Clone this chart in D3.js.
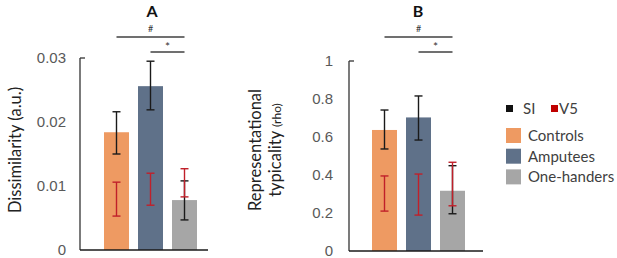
<!DOCTYPE html>
<html>
<head>
<meta charset="utf-8">
<script src="https://cdn.jsdelivr.net/npm/d3@7"></script>
<style>
  body { margin: 0; background: #fff; }
  svg { font-family: Lato, "Noto Sans", sans-serif; }
  .tick text { fill: #595959; font-size: 15px; }
</style>
</head>
<body>
<script>
let w = 617;
let h = 258;

let groups = ["Controls", "Amputees", "One-handers"];
let colors = ["#ee9a62", "#5f7189", "#a6a6a6"];

// Panel A: dissimilarity
let barsA = [0.0184, 0.0256, 0.0078];
let siA = [[0.0150, 0.0216], [0.0219, 0.0295], [0.0047, 0.0108]];
let v5A = [[0.0053, 0.0106], [0.0070, 0.0120], [0.0083, 0.0127]];
let ticksA = [0, 0.01, 0.02, 0.03];

// Panel B: representational typicality
let barsB = [0.637, 0.703, 0.317];
let siB = [[0.537, 0.742], [0.584, 0.816], [0.196, 0.449]];
let v5B = [[0.210, 0.395], [0.189, 0.405], [0.238, 0.467]];
let ticksB = [0, 0.2, 0.4, 0.6, 0.8, 1];

let svg = d3.select("body")
  .append("svg")
  .attr("width", w)
  .attr("height", h);

function panel(o) {
  let x = d3.scaleBand()
    .domain(groups)
    .range(o.xr)
    .paddingInner(0.265)
    .paddingOuter(0);

  let y = d3.scaleLinear()
    .domain(o.dom)
    .range(o.yr);

  let g = svg.append("g");

  // bars
  g.selectAll("rect.bar")
    .data(o.bars)
    .enter()
    .append("rect")
    .attr("class", "bar")
    .attr("x", (d, i) => x(groups[i]))
    .attr("y", (d) => y(d))
    .attr("width", x.bandwidth())
    .attr("height", (d) => y(0) - y(d))
    .attr("fill", (d, i) => colors[i]);

  // error bars: SI black, V5 red
  let errs = [
    { data: o.si, color: "#1a1a1a" },
    { data: o.v5, color: "#c0202a" },
  ];
  errs.forEach((e) => {
    e.data.forEach((r, i) => {
      let cx = x(groups[i]) + x.bandwidth() / 2;
      g.append("line")
        .attr("x1", cx).attr("x2", cx)
        .attr("y1", y(r[0])).attr("y2", y(r[1]))
        .attr("stroke", e.color).attr("stroke-width", 1.4);
      r.forEach((v) => {
        g.append("line")
          .attr("x1", cx - 4).attr("x2", cx + 4)
          .attr("y1", y(v)).attr("y2", y(v))
          .attr("stroke", e.color).attr("stroke-width", 1.4);
      });
    });
  });

  // axes
  let yAxis = d3.axisLeft(y)
    .tickValues(o.ticks)
    .tickFormat(o.fmt)
    .tickSize(0)
    .tickPadding(o.tickPad);
  let ya = g.append("g")
    .attr("transform", "translate(" + o.ax + ",0)")
    .call(yAxis);
  ya.select(".domain").remove();

  g.append("line")
    .attr("x1", o.ax).attr("x2", o.ax)
    .attr("y1", y(o.dom[1])).attr("y2", y(0))
    .attr("stroke", "#333").attr("stroke-width", 1.3);
  g.append("line")
    .attr("x1", o.ax).attr("x2", o.ax + 5)
    .attr("y1", y(o.dom[1])).attr("y2", y(o.dom[1]))
    .attr("stroke", "#333").attr("stroke-width", 1.3);
  g.append("line")
    .attr("x1", o.ax).attr("x2", o.xEnd)
    .attr("y1", y(0)).attr("y2", y(0))
    .attr("stroke", "#1a1a1a").attr("stroke-width", 1.3);

  // significance lines
  let c = (i) => x(groups[i]) + x.bandwidth() / 2;
  let sig = [
    { a: 0, b: 2, yy: 37, label: "#", size: 9 },
    { a: 1, b: 2, yy: 52, label: "*", size: 12 },
  ];
  sig.forEach((s) => {
    g.append("line")
      .attr("x1", c(s.a)).attr("x2", c(s.b))
      .attr("y1", s.yy).attr("y2", s.yy)
      .attr("stroke", "#404040").attr("stroke-width", 1.4);
    g.append("text")
      .attr("x", (c(s.a) + c(s.b)) / 2)
      .attr("y", s.yy - (s.label == "*" ? 1 : 5))
      .attr("text-anchor", "middle")
      .attr("font-size", s.size)
      .attr("fill", "#333")
      .text(s.label);
  });

  // title
  g.append("text")
    .attr("x", o.titleX)
    .attr("y", 17)
    .attr("text-anchor", "middle")
    .attr("font-size", 16)
    .attr("font-weight", "bold")
    .attr("fill", "#111")
    .text(o.title);

  return { x, y, g };
}

let A = panel({
  xr: [104, 197], dom: [0, 0.03], yr: [250, 58],
  bars: barsA, si: siA, v5: v5A, ticks: ticksA,
  fmt: (d) => d === 0 ? "0" : d3.format(".2f")(d),
  ax: 80, xEnd: 208, tickPad: 14, titleX: 152, title: "A",
});

let B = panel({
  xr: [372, 465], dom: [0, 1], yr: [251, 61],
  bars: barsB, si: siB, v5: v5B, ticks: ticksB,
  fmt: (d) => (d === 0 || d === 1) ? String(d) : d3.format(".1f")(d),
  ax: 349, xEnd: 483, tickPad: 16, titleX: 418, title: "B",
});

// y labels
svg.append("text")
  .attr("transform", "translate(21,150) rotate(-90)")
  .attr("text-anchor", "middle")
  .attr("font-size", 16.5)
  .attr("fill", "#222")
  .text("Dissimilarity (a.u.)");

let lb = svg.append("text")
  .attr("transform", "translate(0,0) rotate(-90)")
  .attr("text-anchor", "middle")
  .attr("font-size", 16.5)
  .attr("fill", "#222");
lb.append("tspan")
  .attr("x", -150).attr("y", 261)
  .text("Representational");
let l2 = lb.append("tspan")
  .attr("x", -150).attr("y", 281);
l2.append("tspan").text("typicality ");
l2.append("tspan").attr("font-size", 12).text("(rho)");

// legend
let leg = svg.append("g").attr("fill", "#404040");
let srcs = [
  { name: "SI", color: "#111", x: 506 },
  { name: "V5", color: "#c00000", x: 551 },
];
leg.selectAll("rect.src")
  .data(srcs)
  .enter()
  .append("rect")
  .attr("class", "src")
  .attr("x", (d) => d.x)
  .attr("y", 105)
  .attr("width", 7)
  .attr("height", 7)
  .attr("fill", (d) => d.color);
leg.selectAll("text.src")
  .data(srcs)
  .enter()
  .append("text")
  .attr("class", "src")
  .attr("x", (d) => d.x + (d.name == "SI" ? 17 : 8))
  .attr("y", 114)
  .attr("font-size", 15)
  .text((d) => d.name);

let legY = d3.scaleBand()
  .domain(groups)
  .range([128, 188])
  .paddingInner(0.1);
leg.selectAll("rect.grp")
  .data(groups)
  .enter()
  .append("rect")
  .attr("class", "grp")
  .attr("x", 506)
  .attr("y", (d) => legY(d))
  .attr("width", 15)
  .attr("height", 15)
  .attr("fill", (d, i) => colors[i]);
leg.selectAll("text.grp")
  .data(groups)
  .enter()
  .append("text")
  .attr("class", "grp")
  .attr("x", 528)
  .attr("y", (d) => legY(d) + 13)
  .attr("font-size", 15)
  .text((d) => d);
</script>
</body>
</html>
